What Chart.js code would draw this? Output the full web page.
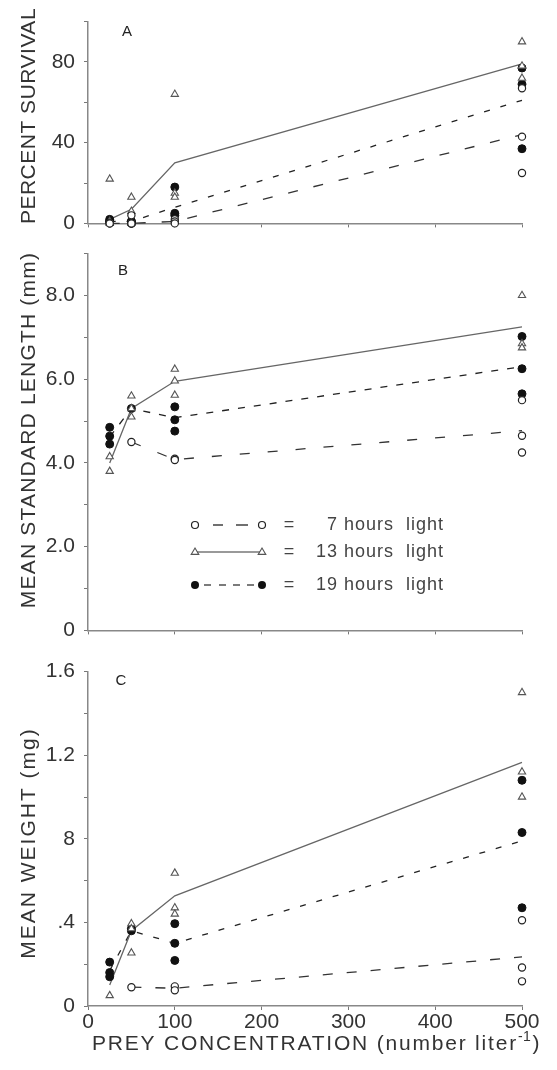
<!DOCTYPE html>
<html>
<head>
<meta charset="utf-8">
<script src="https://cdn.jsdelivr.net/npm/chart.js@4.4.1/dist/chart.umd.min.js"></script>
<style>
  body { margin: 0; background: #fff; }
  #wrap { position: relative; width: 557px; height: 1070px; background: #fff; }
  canvas { position: absolute; left: 0; }
</style>
</head>
<body>
<div id="wrap">
  <canvas id="panelA" width="557" height="245" style="top:0px"></canvas>
  <canvas id="panelB" width="557" height="420" style="top:232px"></canvas>
  <canvas id="panelC" width="557" height="420" style="top:650px"></canvas>
</div>
<script>
// prey concentrations (number per liter)
var conc = [25, 50, 100, 500];

// A - percent survival, replicates per concentration
var survival7 = [[0, 0, 0], [0, 0, 4], [2, 1, 0], [67, 43, 25]];
var survival13 = [[22, 1, 0], [13, 6, 0], [64, 15, 13], [90, 78, 72]];
var survival19 = [[2, 1, 1], [1, 1, 0], [18, 5, 4], [77, 69, 37]];
var survivalMean7 = [0, 0, 1, 44];
var survivalMean13 = [2, 7, 30, 79];
var survivalMean19 = [1, 1, 8, 61];

// B - mean standard length (mm)
var length7 = [[], [4.5], [4.1, 4.07], [5.5, 4.65, 4.25]];
var length13 = [[4.15, 3.8], [5.6, 5.1, 5.3], [6.24, 5.96, 5.62], [8.0, 6.85, 6.75]];
var length19 = [[4.85, 4.64, 4.45], [5.3], [5.34, 5.03, 4.76], [7.02, 6.25, 5.65]];
var lengthMean7 = [null, 4.5, 4.08, 4.77];
var lengthMean13 = [4.0, 5.3, 5.95, 7.25];
var lengthMean19 = [4.62, 5.3, 5.08, 6.3];

// C - mean weight (mg)
var weight7 = [[], [0.09], [0.094, 0.075], [0.41, 0.184, 0.118]];
var weight13 = [[0.05], [0.394, 0.254, 0.37], [0.636, 0.47, 0.44], [1.5, 1.12, 1.0]];
var weight19 = [[0.21, 0.16, 0.14], [0.37, 0.36], [0.394, 0.3, 0.218], [1.08, 0.83, 0.47]];
var weightMean7 = [null, 0.09, 0.085, 0.235];
var weightMean13 = [0.1, 0.36, 0.527, 1.166];
var weightMean19 = [0.17, 0.36, 0.3, 0.79];

// tick labels as printed
var survivalTickValues = [0, 40, 80];
var survivalTickLabels = ["0", "40", "80"];
var lengthTickValues = [0, 2, 4, 6, 8];
var lengthTickLabels = ["0", "2.0", "4.0", "6.0", "8.0"];
var weightTickValues = [0, 0.4, 0.8, 1.2, 1.6];
var weightTickLabels = ["0", ".4", "8", "1.2", "1.6"];

var legendLabels = ["7 hours  light", "13 hours  light", "19 hours  light"];
var xTitle = "PREY CONCENTRATION (number liter";

var FONT = '"Liberation Sans", Arial, sans-serif';

function repPoints(reps) {
    var pts = [];
    reps.forEach(function (vals, i) {
        vals.forEach(function (v) {
            pts.push({ x: conc[i], y: v });
        });
    });
    return pts;
}

function meanLine(means) {
    return means
        .map(function (v, i) { return { x: conc[i], y: v }; })
        .filter(function (p) { return p.y !== null; });
}

function labelFor(values, labels) {
    return function (value) {
        for (var i = 0; i < values.length; i++) {
            if (Math.abs(values[i] - value) < 1e-6) return labels[i];
        }
        return "";
    };
}

function circle(ctx, x, y, r, filled) {
    ctx.beginPath();
    ctx.arc(x, y, r, 0, Math.PI * 2);
    if (filled) { ctx.fillStyle = "#111"; ctx.fill(); }
    else { ctx.fillStyle = "#fff"; ctx.fill(); ctx.strokeStyle = "#222"; ctx.lineWidth = 1.2; ctx.stroke(); }
}

function triangle(ctx, x, y, r) {
    ctx.beginPath();
    ctx.moveTo(x, y - r);
    ctx.lineTo(x + r * 0.95, y + r * 0.6);
    ctx.lineTo(x - r * 0.95, y + r * 0.6);
    ctx.closePath();
    ctx.fillStyle = "#fff"; ctx.fill();
    ctx.strokeStyle = "#555"; ctx.lineWidth = 1.1; ctx.stroke();
}

function drawLegend(ctx, rows) {
    ctx.save();
    // 7 h
    circle(ctx, 195, rows[0], 3.5, false);
    circle(ctx, 262, rows[0], 3.5, false);
    ctx.strokeStyle = "#333"; ctx.lineWidth = 1.4;
    [[213, 223], [236, 248]].forEach(function (s) {
        ctx.beginPath(); ctx.moveTo(s[0], rows[0]); ctx.lineTo(s[1], rows[0]); ctx.stroke();
    });
    // 13 h
    ctx.strokeStyle = "#777"; ctx.lineWidth = 1.3;
    ctx.beginPath(); ctx.moveTo(195, rows[1]); ctx.lineTo(262, rows[1]); ctx.stroke();
    triangle(ctx, 195, rows[1], 4);
    triangle(ctx, 262, rows[1], 4);
    // 19 h
    ctx.strokeStyle = "#333"; ctx.lineWidth = 1.3;
    [[204, 211], [219, 226], [233, 240], [247, 254]].forEach(function (s) {
        ctx.beginPath(); ctx.moveTo(s[0], rows[2]); ctx.lineTo(s[1], rows[2]); ctx.stroke();
    });
    circle(ctx, 195, rows[2], 4, true);
    circle(ctx, 262, rows[2], 4, true);

    ctx.font = "18px " + FONT;
    ctx.fillStyle = "#444";
    ctx.textBaseline = "middle";
    rows.forEach(function (y, i) {
        ctx.textAlign = "center";
        ctx.letterSpacing = "0px";
        ctx.fillText("=", 289, y);
        ctx.textAlign = "right";
        ctx.letterSpacing = "1px";
        ctx.fillText(legendLabels[i], 444, y);
    });
    ctx.restore();
}

var panelText = {
    id: "panelText",
    afterDraw: function (chart, args, opts) {
        var ctx = chart.ctx;
        ctx.save();
        ctx.fillStyle = "#333";
        ctx.font = "21px " + FONT;
        ctx.letterSpacing = opts.titleSpacing;
        ctx.translate(opts.titleX, opts.titleY);
        ctx.rotate(-Math.PI / 2);
        ctx.textAlign = "center";
        ctx.textBaseline = "middle";
        ctx.fillText(opts.title, 0, 0);
        ctx.restore();

        ctx.save();
        ctx.fillStyle = "#222";
        ctx.font = "15px " + FONT;
        ctx.textAlign = "center";
        ctx.textBaseline = "middle";
        ctx.fillText(opts.letter, opts.letterX, opts.letterY);
        ctx.restore();

        if (opts.legendRows) drawLegend(ctx, opts.legendRows);

        if (opts.xTitleY) {
            ctx.save();
            ctx.fillStyle = "#333";
            ctx.textBaseline = "alphabetic";
            ctx.textAlign = "left";
            ctx.font = "21px " + FONT;
            ctx.letterSpacing = "1.8px";
            var x = 92;
            ctx.fillText(xTitle, x, opts.xTitleY);
            x += ctx.measureText(xTitle).width;
            ctx.font = "14px " + FONT;
            ctx.letterSpacing = "0.5px";
            ctx.fillText("-1", x, opts.xTitleY - 9);
            x += ctx.measureText("-1").width + 1;
            ctx.font = "21px " + FONT;
            ctx.fillText(")", x, opts.xTitleY);
            ctx.restore();
        }
    },
};

function makePanel(id, cfg) {
    var datasets = [
        {
            label: "7 h", data: repPoints(cfg.reps7), pointStyle: "circle", pointRadius: 3.6,
            pointBackgroundColor: "#fff", pointBorderColor: "#222", pointBorderWidth: 1.2, showLine: false, clip: false,
        },
        {
            label: "13 h", data: repPoints(cfg.reps13), pointStyle: "triangle", pointRadius: 4.2,
            pointBackgroundColor: "#fff", pointBorderColor: "#555", pointBorderWidth: 1.1, showLine: false, clip: false,
        },
        {
            label: "19 h", data: repPoints(cfg.reps19), pointStyle: "circle", pointRadius: 4,
            pointBackgroundColor: "#111", pointBorderColor: "#111", pointBorderWidth: 1, showLine: false, clip: false,
        },
        {
            label: "7 h mean", data: meanLine(cfg.mean7), showLine: true, pointRadius: 0,
            borderColor: "#333", borderWidth: 1.3, borderDash: cfg.dash7, clip: false,
        },
        {
            label: "13 h mean", data: meanLine(cfg.mean13), showLine: true, pointRadius: 0,
            borderColor: "#666", borderWidth: 1.3, clip: false,
        },
        {
            label: "19 h mean", data: meanLine(cfg.mean19), showLine: true, pointRadius: 0,
            borderColor: "#222", borderWidth: 1.3, borderDash: cfg.dash19, clip: false,
        },
    ];

    return new Chart(document.getElementById(id), {
        type: "scatter",
        data: { datasets: datasets },
        options: {
            responsive: false,
            animation: false,
            devicePixelRatio: 1,
            layout: { padding: { top: cfg.padTop, right: 35, left: 0, bottom: 0 } },
            plugins: {
                legend: { display: false },
                tooltip: { enabled: false },
                panelText: cfg.text,
            },
            scales: {
                x: {
                    type: "linear",
                    min: 0,
                    max: 500,
                    ticks: {
                        stepSize: 100,
                        padding: 0,
                        color: "#333",
                        font: { family: FONT, size: 21 },
                        callback: function (v) { return cfg.xLabels ? String(v) : ""; },
                    },
                    grid: { drawOnChartArea: false, tickLength: 4, color: "#777" },
                    border: { color: "#888", width: 1.5 },
                    afterFit: function (s) { s.height = cfg.xHeight; },
                },
                y: {
                    min: 0,
                    max: cfg.yMax,
                    ticks: {
                        stepSize: cfg.yStep,
                        padding: 9,
                        color: "#333",
                        font: { family: FONT, size: 21 },
                        callback: labelFor(cfg.tickValues, cfg.tickLabels),
                    },
                    grid: { drawOnChartArea: false, tickLength: 4, color: "#777" },
                    border: { color: "#888", width: 1.5 },
                    afterFit: function (s) { s.width = 88; },
                },
            },
        },
        plugins: [panelText],
    });
}

makePanel("panelA", {
    reps7: survival7, reps13: survival13, reps19: survival19,
    mean7: survivalMean7, mean13: survivalMean13, mean19: survivalMean19,
    dash7: [10, 16], dash19: [6, 11],
    yMax: 100, yStep: 20, tickValues: survivalTickValues, tickLabels: survivalTickLabels,
    padTop: 14, xHeight: 16, xLabels: false,
    text: { title: "PERCENT SURVIVAL", titleSpacing: "0.5px", titleX: 29, titleY: 116, letter: "A", letterX: 127, letterY: 32 },
});

makePanel("panelB", {
    reps7: length7, reps13: length13, reps19: length19,
    mean7: lengthMean7, mean13: lengthMean13, mean19: lengthMean19,
    dash7: [10, 18], dash19: [7, 9],
    yMax: 9, yStep: 1, tickValues: lengthTickValues, tickLabels: lengthTickLabels,
    padTop: 18, xHeight: 17, xLabels: false,
    text: {
        title: "MEAN STANDARD LENGTH (mm)", titleSpacing: "1.2px", titleX: 29, titleY: 198,
        letter: "B", letterX: 123, letterY: 39,
        legendRows: [293, 320, 353],
    },
});

makePanel("panelC", {
    reps7: weight7, reps13: weight13, reps19: weight19,
    mean7: weightMean7, mean13: weightMean13, mean19: weightMean19,
    dash7: [10, 14], dash19: [6, 11],
    yMax: 1.6, yStep: 0.2, tickValues: weightTickValues, tickLabels: weightTickLabels,
    padTop: 14, xHeight: 64, xLabels: true,
    text: {
        title: "MEAN WEIGHT (mg)", titleSpacing: "2px", titleX: 29, titleY: 193,
        letter: "C", letterX: 121, letterY: 31, xTitleY: 400,
    },
});
</script>
</body>
</html>
